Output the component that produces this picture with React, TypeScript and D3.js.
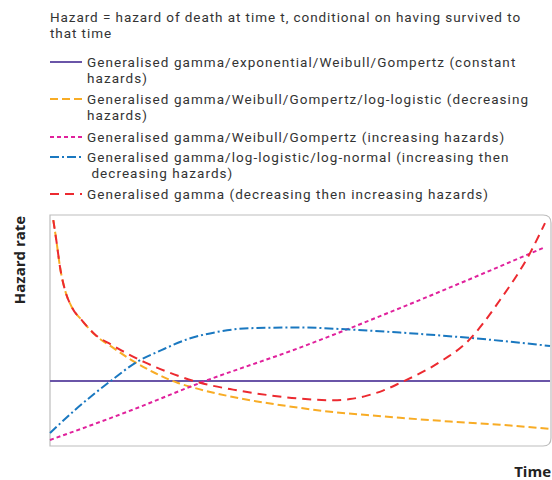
import React from 'react';
import * as d3 from 'd3';

// curves, time and hazard on 0-100 scales
const timeDomain = [0, 100];
const hazardDomain = [0, 100];

const constantHazard = [
  [0, 28.1], [100, 28.1],
];
const decreasingHazard = [
  [0.66, 97.8], [1.34, 87.9], [2, 77.5], [3, 67.5], [4.34, 60.2], [6.34, 54.5],
  [9, 48.1], [12.3, 43], [16.3, 37.2], [21, 31.6], [25.6, 27.3], [29, 25.1],
  [36.6, 21.2], [43.4, 18.6], [50, 16.5], [56.6, 14.7], [63.4, 13.4], [70, 12.2],
  [80, 10.6], [90, 9.2], [100, 7.4],
];
const increasingHazard = [
  [0, 2.6], [16.4, 15.6], [30, 27.3], [50, 42.6], [70, 59.7], [99, 86.1],
];
const humpHazard = [
  [0, 5.6], [5, 15.6], [12.4, 28.6], [17, 35.9], [22.4, 41.6], [27.6, 46.3],
  [33, 49.2], [40, 51], [50, 51.3], [60, 50.4], [70, 49.1], [84, 46.8], [100, 43.3],
];
const bathtubHazard = [
  [0.66, 97.8], [1.34, 87.9], [2, 77.5], [3, 67.5], [4.34, 60.2], [6.34, 54.5],
  [9, 48.3], [12.4, 43.7], [19, 36.2], [25.6, 30.4], [30, 27.4], [36.6, 24.4],
  [43.4, 22.1], [50, 20.5], [56.6, 19.8], [60, 20.3], [63.4, 21.8], [66.6, 24],
  [70, 27.3], [78, 36.4], [83.4, 45], [90, 63.2], [96, 83.5], [99, 96.5],
];

const noteLines = [
  'Hazard = hazard of death at time t, conditional on having survived to',
  'that time',
];

const series = [
  { name: 'constant', data: constantHazard, color: '#6a55a8', dash: null,
    label: ['Generalised gamma/exponential/Weibull/Gompertz (constant', 'hazards)'] },
  { name: 'decreasing', data: decreasingHazard, color: '#f8ac25', dash: '8,4',
    label: ['Generalised gamma/Weibull/Gompertz/log-logistic (decreasing', 'hazards)'] },
  { name: 'increasing', data: increasingHazard, color: '#e0219c', dash: '4,3',
    label: ['Generalised gamma/Weibull/Gompertz (increasing hazards)'] },
  { name: 'hump', data: humpHazard, color: '#1a78c0', dash: '9,3,2,3',
    label: ['Generalised gamma/log-logistic/log-normal (increasing then', ' decreasing hazards)'] },
  { name: 'bathtub', data: bathtubHazard, color: '#ec2a30', dash: '9,6',
    label: ['Generalised gamma (decreasing then increasing hazards)'] },
];

const legendRows = [67, 104, 142, 162, 199];

const App = () => {
  const width = 552;
  const height = 480;
  const plot = { left: 50, right: 551, top: 215, bottom: 446 };
  const font = 'Roboto, sans-serif';
  const boldFont = '"Open Sans", sans-serif';
  const lineGap = 16;

  const x = d3.scaleLinear().domain(timeDomain).range([plot.left, plot.right - 1]);
  const y = d3.scaleLinear().domain(hazardDomain).range([plot.bottom, plot.top]);

  const line = d3
    .line<number[]>()
    .x(d => x(d[0]))
    .y(d => y(d[1]))
    .curve(d3.curveMonotoneX);

  const r = 8;
  const box = `M${plot.left},${plot.top} H${plot.right - r} Q${plot.right},${plot.top} ${plot.right},${plot.top + r}
    V${plot.bottom - r} Q${plot.right},${plot.bottom} ${plot.right - r},${plot.bottom} H${plot.left} Z`;

  return (
    <svg width={width} height={height} viewBox={`0 0 ${width} ${height}`}
      style={{ position: 'absolute', left: 0, top: 0 }}>
      <rect width={width} height={height} fill='white' />
      {noteLines.map((t, i) => (
        <text key={`note-${i}`} x={50} y={22 + i * lineGap} fontFamily={font} fontSize={13.5}
          fill='#333' style={{ whiteSpace: 'pre', letterSpacing: '0.93px' }}>{t}</text>
      ))}
      {series.map((s, i) => (
        <g key={`legend-${s.name}`}>
          <line x1={50} x2={82} y1={legendRows[i] - 5} y2={legendRows[i] - 5}
            stroke={s.color} strokeWidth={2} strokeDasharray={s.dash || undefined} />
          {s.label.map((t, j) => (
            <text key={j} x={87} y={legendRows[i] + j * lineGap} fontFamily={font} fontSize={13.5}
              fill='#333' style={{ whiteSpace: 'pre', letterSpacing: '1.05px' }}>{t}</text>
          ))}
        </g>
      ))}
      <path d={box} fill='none' stroke='#bdbdbd' strokeWidth={1.2} />
      {series.map(s => (
        <path key={`line-${s.name}`} d={line(s.data) || ''} fill='none' stroke={s.color}
          strokeWidth={2} strokeDasharray={s.dash || undefined} />
      ))}
      <text transform={`translate(25, 260) rotate(-90)`} textAnchor='middle' fontFamily={boldFont}
        fontWeight='bold' fontSize={15} fill='#222'>Hazard rate</text>
      <text x={551} y={477} textAnchor='end' fontFamily={boldFont} fontWeight='bold' fontSize={15}
        fill='#222'>Time</text>
    </svg>
  );
};

export default App;
